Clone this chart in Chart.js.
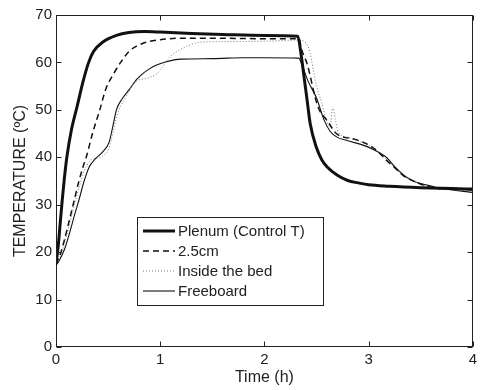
<!DOCTYPE html>
<html>
<head>
<meta charset="utf-8">
<script src="https://cdn.jsdelivr.net/npm/chart.js@4/dist/chart.umd.min.js"></script>
<style>
  html, body { margin: 0; padding: 0; background: #fff; }
  #c { display: block; }
</style>
</head>
<body>
<canvas id="c" width="481" height="390"></canvas>
<script>
// Temperature histories (time in h, temperature in ºC)
const seriesLabels = ['Plenum (Control T)', '2.5cm', 'Inside the bed', 'Freeboard'];

const timePlenum = [0, 0.02, 0.04, 0.06, 0.08, 0.104, 0.15, 0.2, 0.26, 0.31, 0.36, 0.45, 0.58, 0.7, 0.85, 1.0, 1.3, 1.6, 2.0, 2.32, 2.35, 2.38, 2.41, 2.44, 2.5, 2.55, 2.6, 2.7, 2.8, 2.9, 3.0, 3.2, 3.5, 3.8, 4.0];
const tempPlenum = [17.5, 21, 26, 31, 35.5, 40, 46, 50.5, 56, 59.8, 62.3, 64.3, 65.7, 66.3, 66.5, 66.4, 66.1, 65.9, 65.7, 65.5, 62, 57, 52, 47, 42, 39.5, 38, 36.2, 35.1, 34.6, 34.2, 33.9, 33.6, 33.4, 33.3];

const timeBed25 = [0, 0.04, 0.08, 0.12, 0.17, 0.22, 0.26, 0.29, 0.35, 0.42, 0.48, 0.55, 0.62, 0.7, 0.83, 1.0, 1.2, 1.5, 2.0, 2.33, 2.36, 2.41, 2.49, 2.52, 2.6, 2.69, 2.77, 2.85, 3.01, 3.1, 3.17, 3.25, 3.33, 3.45, 3.61, 3.8, 4.0];
const tempBed25 = [17.5, 19.5, 22.5, 26, 30.5, 35, 38, 40, 45, 50, 54.5, 57.5, 60, 62.3, 64, 64.8, 65.1, 65.1, 65, 65, 62.5, 59.7, 52.4, 50.3, 47.8, 45, 44.2, 43.9, 42.5, 41, 39.4, 37.8, 36.2, 34.8, 33.6, 33.3, 33.1];

const timeInside = [0, 0.03, 0.07, 0.12, 0.17, 0.22, 0.27, 0.33, 0.4, 0.45, 0.51, 0.55, 0.58, 0.67, 0.77, 0.86, 0.96, 1.0, 1.11, 1.21, 1.3, 1.4, 1.7, 2.03, 2.33, 2.39, 2.44, 2.47, 2.5, 2.55, 2.6, 2.63, 2.655, 2.68, 2.71, 2.8, 3.0, 3.1, 3.17, 3.25, 3.33, 3.45, 3.6, 3.8, 4.0];
const tempInside = [17.3, 18.5, 21, 25, 29.5, 33.5, 37, 39.3, 39.8, 40.3, 42, 45.5, 48.5, 52.7, 56, 56.6, 57.5, 58.4, 61.5, 62.9, 63.8, 64.3, 64.4, 64.5, 64.7, 64.3, 61.9, 58.3, 55, 51.5, 47.5, 46.5, 50.6, 48, 45.3, 44.2, 42.5, 41, 39.6, 37.8, 36.2, 34.8, 33.7, 33.2, 32.9];

const timeFreeboard = [0, 0.03, 0.08, 0.13, 0.18, 0.22, 0.27, 0.32, 0.37, 0.45, 0.51, 0.55, 0.58, 0.64, 0.7, 0.77, 0.83, 0.9, 0.96, 1.05, 1.2, 1.5, 1.8, 2.0, 2.33, 2.36, 2.42, 2.5, 2.57, 2.63, 2.7, 2.8, 2.98, 3.1, 3.17, 3.26, 3.35, 3.45, 3.55, 3.64, 3.8, 4.0];
const tempFreeboard = [17.2, 18.2, 20.5, 24, 28, 31, 35, 38, 39.5, 41.2, 43.2, 47, 50, 52.5, 54.2, 56.3, 57.6, 58.7, 59.4, 60.1, 60.7, 60.8, 61, 61, 60.9, 59.5, 56, 52.5, 48, 45.5, 44.2, 43.5, 42.3, 41, 40, 37.8, 36, 34.8, 34.2, 33.7, 33.1, 32.6];

const xTicks = [0, 1, 2, 3, 4];
const yTicks = [0, 10, 20, 30, 40, 50, 60, 70];

const toPoints = (ts, vs) => ts.map((t, i) => ({ x: t, y: vs[i] }));

const FONT = 'Liberation Sans, Arial, Helvetica, sans-serif';
const INK = '#222222';

// Box frame with inward tick marks on all four sides
const framePlugin = {
  id: 'frame',
  afterDatasetsDraw(chart) {
    const { ctx, chartArea: a, scales } = chart;
    const L = Math.round(a.left) + 0.5, R = Math.round(a.right) - 0.5;
    const T = Math.round(a.top) + 0.5, B = Math.round(a.bottom) - 0.5;
    const len = 5;
    ctx.save();
    ctx.strokeStyle = INK;
    ctx.lineWidth = 1;
    ctx.strokeRect(L, T, R - L, B - T);
    ctx.beginPath();
    xTicks.forEach(v => {
      const x = Math.round(scales.x.getPixelForValue(v)) + 0.5;
      ctx.moveTo(x, B); ctx.lineTo(x, B - len);
      ctx.moveTo(x, T); ctx.lineTo(x, T + len);
    });
    yTicks.forEach(v => {
      const y = Math.round(scales.y.getPixelForValue(v)) + 0.5;
      ctx.moveTo(L, y); ctx.lineTo(L + len, y);
      ctx.moveTo(R, y); ctx.lineTo(R - len, y);
    });
    ctx.stroke();
    ctx.restore();
  }
};

// Legend box placed inside the plot area
const boxLegendPlugin = {
  id: 'boxLegend',
  afterDatasetsDraw(chart) {
    const { ctx } = chart;
    const x0 = 137, y0 = 217, w = 186, h = 88;
    ctx.save();
    ctx.fillStyle = '#ffffff';
    ctx.fillRect(x0, y0, w, h);
    ctx.strokeStyle = INK;
    ctx.lineWidth = 1;
    ctx.strokeRect(x0 + 0.5, y0 + 0.5, w, h);
    chart.data.datasets.forEach((ds, i) => {
      const y = y0 + 14 + i * 20;
      ctx.beginPath();
      ctx.strokeStyle = ds.borderColor;
      ctx.lineWidth = ds.borderWidth;
      ctx.setLineDash(ds.borderDash || []);
      ctx.moveTo(x0 + 6, y);
      ctx.lineTo(x0 + 38, y);
      ctx.stroke();
      ctx.setLineDash([]);
      ctx.fillStyle = INK;
      ctx.font = '15px ' + FONT;
      ctx.textBaseline = 'middle';
      ctx.textAlign = 'left';
      ctx.fillText(ds.label, x0 + 41, y + 1);
    });
    ctx.restore();
  }
};

const lineStyle = { pointRadius: 0, fill: false, cubicInterpolationMode: 'monotone' };

new Chart(document.getElementById('c'), {
  type: 'line',
  data: {
    datasets: [
      { ...lineStyle, label: seriesLabels[0], data: toPoints(timePlenum, tempPlenum), borderColor: '#111111', borderWidth: 3 },
      { ...lineStyle, label: seriesLabels[1], data: toPoints(timeBed25, tempBed25), borderColor: '#111111', borderWidth: 1.5, borderDash: [6, 4] },
      { ...lineStyle, label: seriesLabels[2], data: toPoints(timeInside, tempInside), borderColor: '#777777', borderWidth: 1, borderDash: [1, 2] },
      { ...lineStyle, label: seriesLabels[3], data: toPoints(timeFreeboard, tempFreeboard), borderColor: '#111111', borderWidth: 1.1 }
    ]
  },
  options: {
    responsive: false,
    animation: false,
    devicePixelRatio: 1,
    layout: { padding: { top: 15, right: 3, left: 0, bottom: 0 } },
    plugins: { legend: { display: false }, tooltip: { enabled: false } },
    scales: {
      x: {
        type: 'linear', min: 0, max: 4,
        afterBuildTicks(s) { s.ticks = xTicks.map(v => ({ value: v })); },
        ticks: { padding: 4, color: INK, font: { family: FONT, size: 15 }, maxRotation: 0 },
        grid: { display: false, drawTicks: false }, border: { display: false },
        title: { display: true, text: 'Time (h)', color: INK, font: { family: FONT, size: 16 }, padding: { top: 0, bottom: 3 } },
        afterFit(s) { s.height = 43; }
      },
      y: {
        type: 'linear', min: 0, max: 70,
        afterBuildTicks(s) { s.ticks = yTicks.map(v => ({ value: v })); },
        ticks: { padding: 4, color: INK, font: { family: FONT, size: 15 } },
        grid: { display: false, drawTicks: false }, border: { display: false },
        title: { display: true, text: 'TEMPERATURE (ºC)', color: INK, font: { family: FONT, size: 16 }, padding: { top: 11, bottom: 0 } },
        afterFit(s) { s.width = 56; }
      }
    }
  },
  plugins: [framePlugin, boxLegendPlugin]
});
</script>
</body>
</html>
